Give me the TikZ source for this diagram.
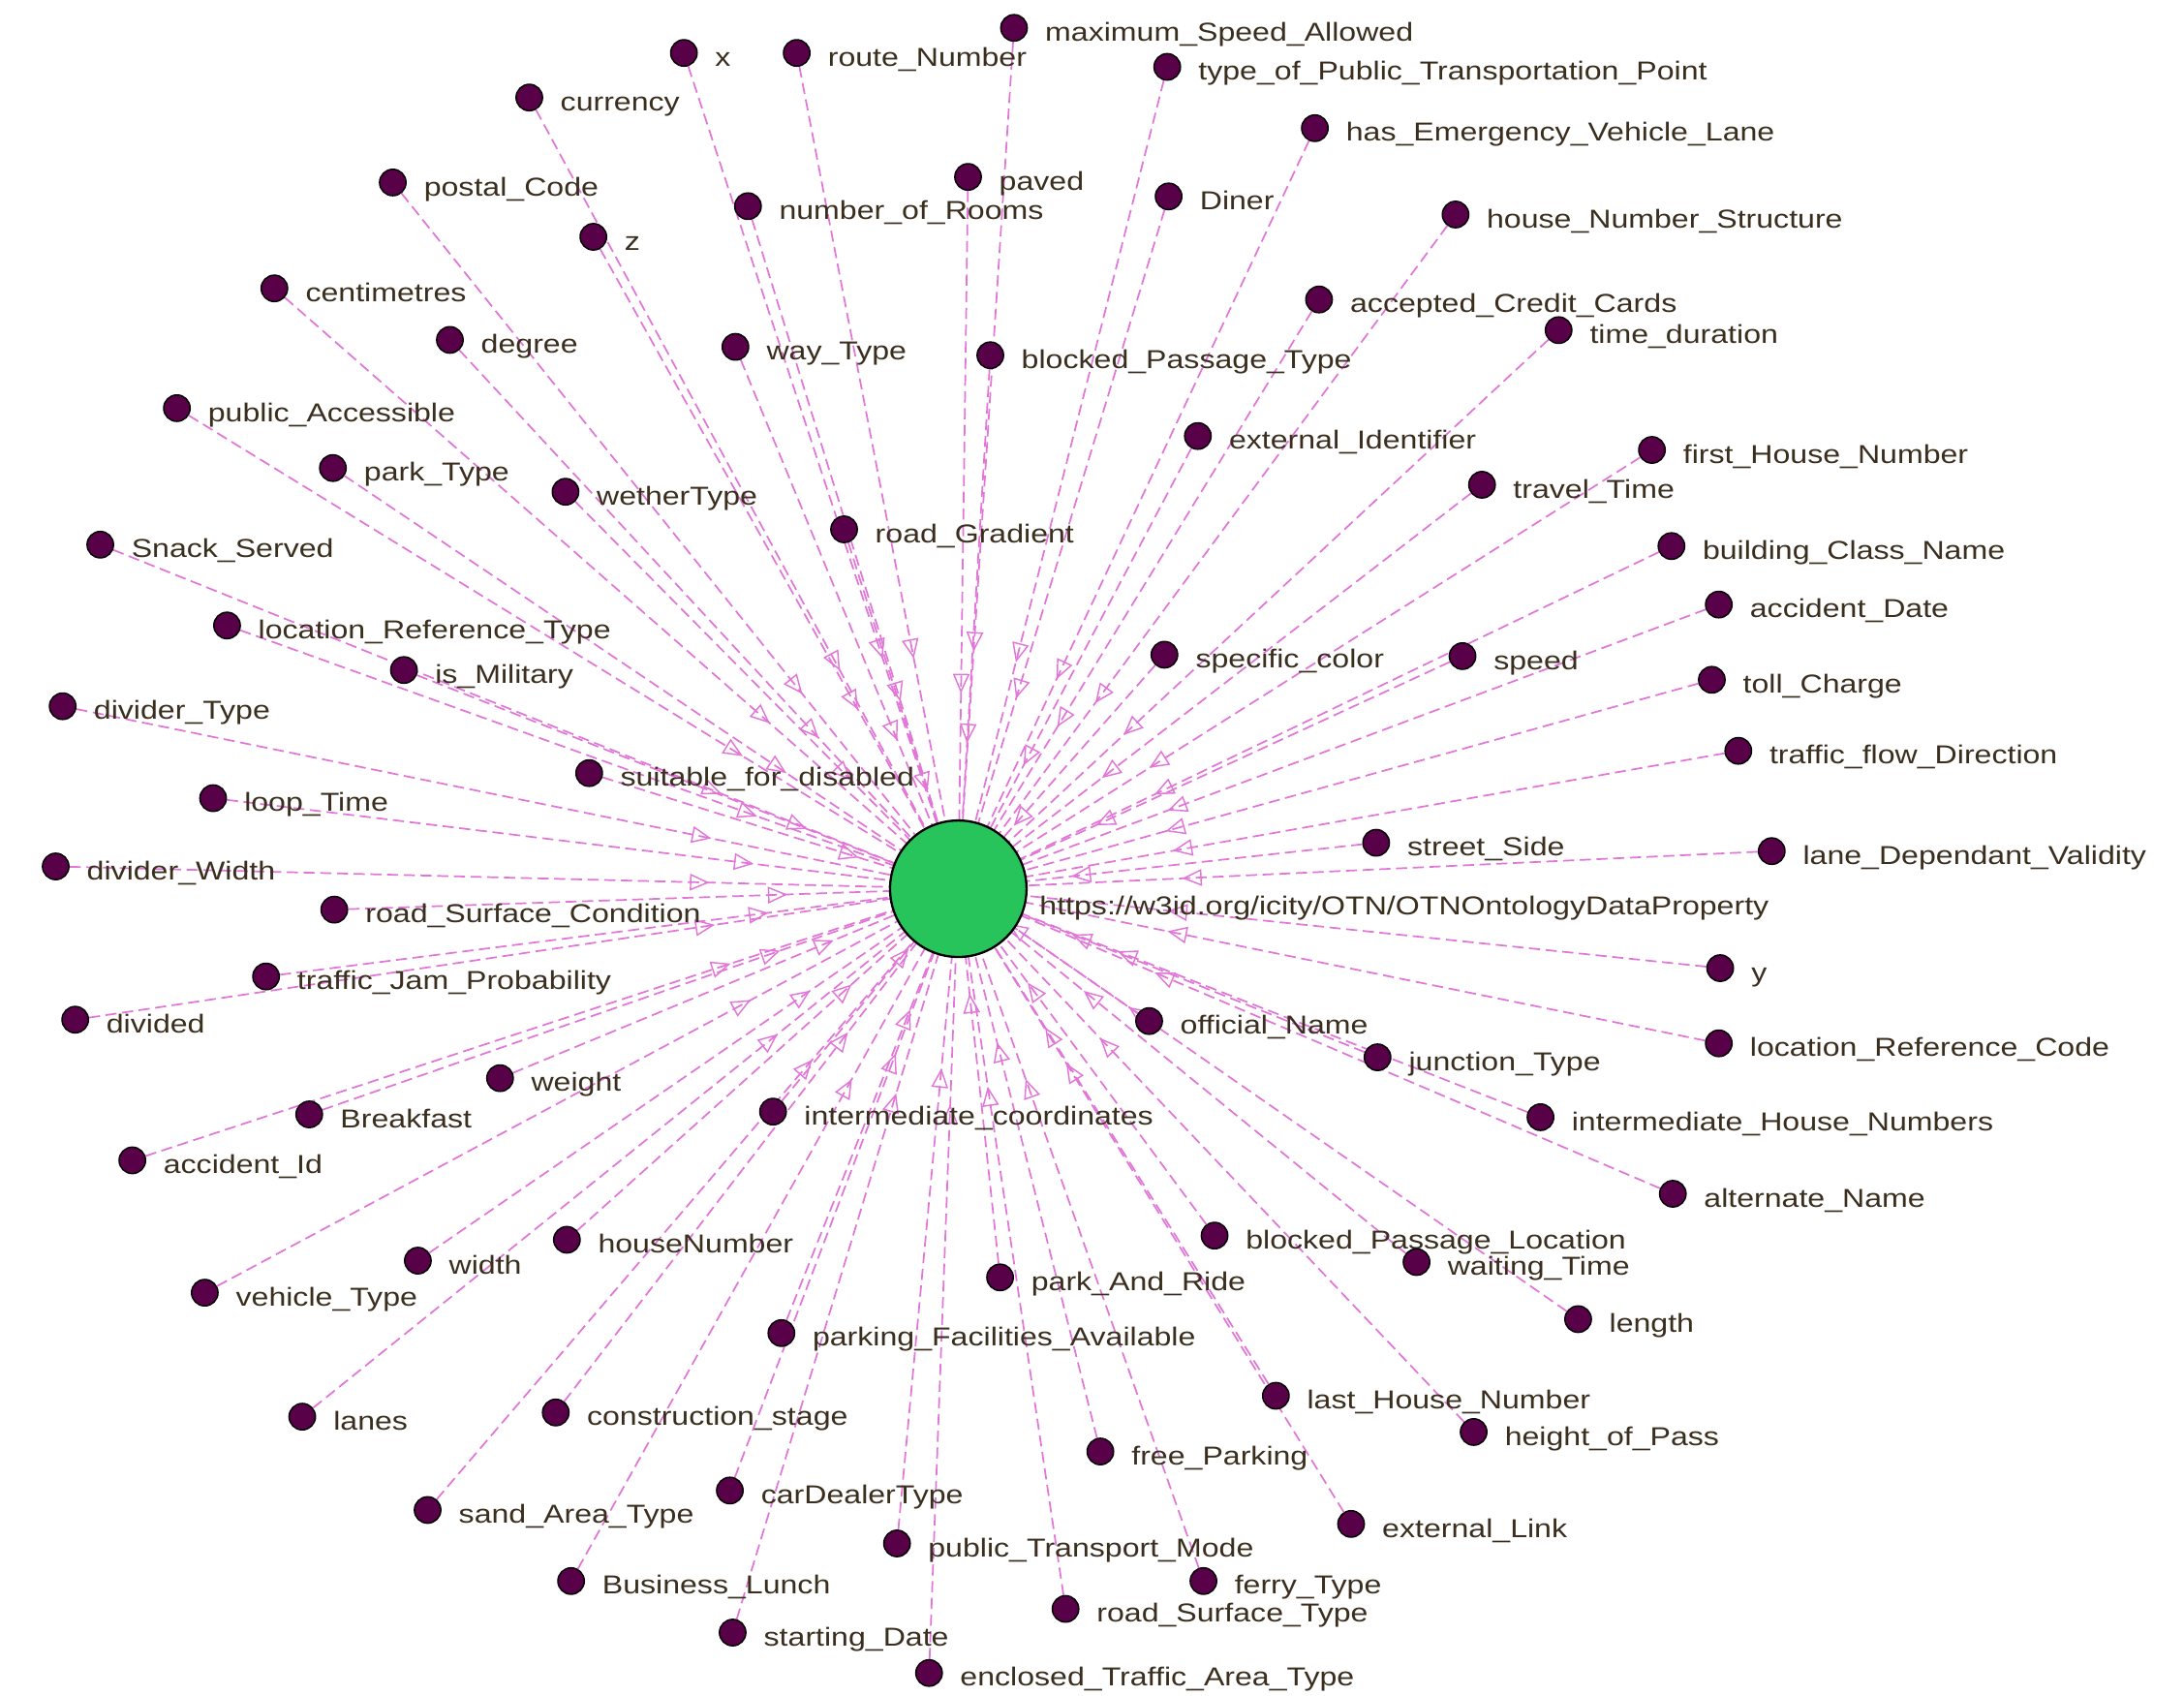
\documentclass[tikz,border=0pt]{standalone}
\usepackage{fontspec}
\newfontfamily\lblfont{Liberation Sans}[FakeStretch=1.2]
\usetikzlibrary{arrows.meta,decorations.markings,backgrounds}
\definecolor{edgec}{RGB}{226,118,216}
\definecolor{dotc}{RGB}{88,0,72}
\definecolor{hubc}{RGB}{39,196,91}
\definecolor{txtc}{RGB}{58,46,30}
\tikzset{
  dotnode/.style={circle, draw=black, line width=0.5pt, fill=dotc, minimum size=9.5pt, inner sep=0pt},
  hubnode/.style={circle, draw=black, line width=0.8pt, fill=hubc, minimum size=49pt, inner sep=0pt},
  lbl/.style={anchor=base west, inner sep=0pt, text=txtc, font=\lblfont\fontsize{9.3}{11}\selectfont},
  edge/.style={draw=edgec, line width=0.6pt, dash pattern=on 4pt off 2pt,
    postaction={decorate},
    decoration={markings, mark=at position 0.72 with {\arrow[draw=edgec, line width=0.5pt, dash pattern=on 2pt off 1pt]{Triangle[open, length=7pt, width=6pt]}}}}
}
\begin{document}
\begin{tikzpicture}[x=0.5pt, y=-0.5pt]
\useasboundingbox (0,0) rectangle (1568,1217);
\node[hubnode] (c) at (688,638) {};
\node[lbl] (cl) at (746,657) {https://w3id.org/icity/OTN/OTNOntologyDataProperty};
\foreach \id/\x/\y/\t in {
n1/491/38/x,
n2/572/38/route\_Number,
n3/728/20/maximum\_Speed\_Allowed,
n4/838/48/type\_of\_Public\_Transportation\_Point,
n5/380/70/currency,
n6/944/92/has\_Emergency\_Vehicle\_Lane,
n7/282/131/postal\_Code,
n8/695/127/paved,
n9/537/148/number\_of\_Rooms,
n10/839/141/Diner,
n11/1045/154/house\_Number\_Structure,
n12/426/170/z,
n13/197/207/centimetres,
n14/947/215/accepted\_Credit\_Cards,
n15/1119/237/time\_duration,
n16/323/244/degree,
n17/528/249/way\_Type,
n18/711/255/blocked\_Passage\_Type,
n19/127/293/public\_Accessible,
n20/860/313/external\_Identifier,
n21/1186/323/first\_House\_Number,
n22/239/336/park\_Type,
n23/1064/348/travel\_Time,
n24/406/353/wetherType,
n25/606/380/road\_Gradient,
n26/72/391/Snack\_Served,
n27/1200/392/building\_Class\_Name,
n28/1234/434/accident\_Date,
n29/163/449/location\_Reference\_Type,
n30/836/470/specific\_color,
n31/1050/471/speed,
n32/290/481/is\_Military,
n33/1229/488/toll\_Charge,
n34/45/507/divider\_Type,
n35/1248/539/traffic\_flow\_Direction,
n36/423/555/suitable\_for\_disabled,
n37/153/573/loop\_Time,
n38/988/605/street\_Side,
n39/1272/611/lane\_Dependant\_Validity,
n40/40/622/divider\_Width,
n41/240/653/road\_Surface\_Condition,
n42/1235/695/y,
n43/191/701/traffic\_Jam\_Probability,
n44/54/732/divided,
n45/825/733/official\_Name,
n46/1234/749/location\_Reference\_Code,
n47/989/759/junction\_Type,
n48/359/774/weight,
n49/222/800/Breakfast,
n50/555/798/intermediate\_coordinates,
n51/1106/802/intermediate\_House\_Numbers,
n52/95/833/accident\_Id,
n53/1201/857/alternate\_Name,
n54/872/887/blocked\_Passage\_Location,
n55/407/890/houseNumber,
n56/300/905/width,
n57/1017/906/waiting\_Time,
n58/718/917/park\_And\_Ride,
n59/147/928/vehicle\_Type,
n60/1133/947/length,
n61/561/957/parking\_Facilities\_Available,
n62/916/1002/last\_House\_Number,
n63/217/1017/lanes,
n64/399/1014/construction\_stage,
n65/1058/1028/height\_of\_Pass,
n66/790/1042/free\_Parking,
n67/524/1070/carDealerType,
n68/307/1084/sand\_Area\_Type,
n69/970/1094/external\_Link,
n70/644/1108/public\_Transport\_Mode,
n71/864/1135/ferry\_Type,
n72/410/1135/Business\_Lunch,
n73/765/1155/road\_Surface\_Type,
n74/526/1172/starting\_Date,
n75/667/1201/enclosed\_Traffic\_Area\_Type}{
  \node[dotnode] (\id) at (\x,\y) {};
  \node[lbl] (\id t) at (\x+22,\y+9.5) {\t};
}
\begin{pgfonlayer}{background}
\fill[white] (0,0) rectangle (1568,1217);
\foreach \i in {1,...,75}{
  \draw[edge] (n\i) -- (c.center);
}
\end{pgfonlayer}
\end{tikzpicture}
\end{document}
